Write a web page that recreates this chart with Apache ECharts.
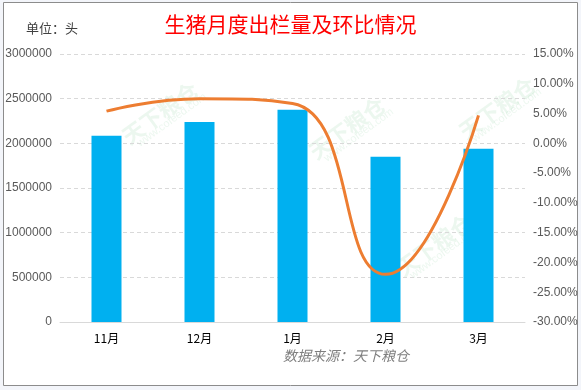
<!DOCTYPE html>
<html>
<head>
<meta charset="utf-8">
<script src="https://cdn.jsdelivr.net/npm/echarts@6/dist/echarts.min.js"></script>
<style>
html,body{margin:0;padding:0;background:#f3f5fa;}
#c{width:581px;height:390px;}
</style>
</head>
<body>
<div id="c"></div>
<script>
const categories = ['11月', '12月', '1月', '2月', '3月'];
const outputValues = [2085000, 2240000, 2375000, 1850000, 1940000];
const momPercent = [5.4, 7.5, 6.7, -22.0, 4.7];
const leftTicks = {min: 0, max: 3000000, interval: 500000};
const rightTicks = {min: -30, max: 15, interval: 5};

const chart = echarts.init(document.getElementById('c'), null, {renderer: 'canvas'});
const wm = (x, y) => ({
  type: 'text', x: x, y: y, rotation: Math.PI / 5, silent: true, z: 0,
  style: {text: '天下粮仓', fill: 'rgba(120,200,140,0.14)', font: 'bold 22px "Noto Sans CJK SC"'}
});
const wm2 = (x, y) => ({
  type: 'text', x: x, y: y, rotation: Math.PI / 5, silent: true, z: 0,
  style: {text: 'www.cofeed.com', fill: 'rgba(120,200,140,0.14)', font: '11px Arial'}
});
chart.setOption({
  animation: false,
  backgroundColor: 'transparent',
  graphic: [
    {type: 'rect', z: -10, shape: {x: 3.5, y: 2.5, width: 574, height: 383},
     style: {fill: '#ffffff', stroke: '#8c8c8c', lineWidth: 1}},
    wm(118, 130), wm2(135, 140), wm(305, 145), wm2(322, 155), wm(455, 125), wm2(470, 135), wm(392, 262), wm2(408, 272),
    {type: 'text', left: 26, top: 22, style: {text: '单位：头', fill: '#404040', font: '13px "Noto Sans CJK SC"'}},
    {type: 'text', left: 283, top: 349, style: {text: '数据来源：天下粮仓', fill: '#7f7f7f', font: 'italic 14px "Noto Sans CJK SC"'}}
  ],
  title: {
    text: '生猪月度出栏量及环比情况', left: 'center', top: 9,
    textStyle: {color: '#ff0000', fontSize: 21, fontWeight: 'normal', fontFamily: '"Noto Sans CJK SC"'}
  },
  grid: {left: 60, right: 56, top: 54, bottom: 68},
  xAxis: {
    type: 'category', data: categories,
    axisLine: {lineStyle: {color: '#d9d9d9'}},
    axisTick: {show: false},
    axisLabel: {color: '#000000', fontSize: 12, margin: 10, fontFamily: '"Noto Sans CJK SC"'}
  },
  yAxis: [
    {
      type: 'value', min: leftTicks.min, max: leftTicks.max, interval: leftTicks.interval,
      axisLine: {show: false}, axisTick: {show: false},
      axisLabel: {color: '#595959', fontSize: 12, margin: 8, fontFamily: 'Arial',
        formatter: v => String(v)},
      splitLine: {lineStyle: {color: '#d9d9d9', type: [4, 3]}}
    },
    {
      type: 'value', min: rightTicks.min, max: rightTicks.max, interval: rightTicks.interval,
      axisLine: {show: false}, axisTick: {show: false}, splitLine: {show: false},
      axisLabel: {color: '#595959', fontSize: 12, margin: 8, fontFamily: 'Arial',
        formatter: v => v.toFixed(2) + '%'}
    }
  ],
  series: [
    {type: 'bar', data: outputValues, barWidth: 30, itemStyle: {color: '#00b0f0'}, z: 2},
    {type: 'line', yAxisIndex: 1, data: momPercent, smooth: 0.5, showSymbol: false, symbol: 'none',
     lineStyle: {color: '#ed7d31', width: 3}, z: 3}
  ]
});
</script>
</body>
</html>
